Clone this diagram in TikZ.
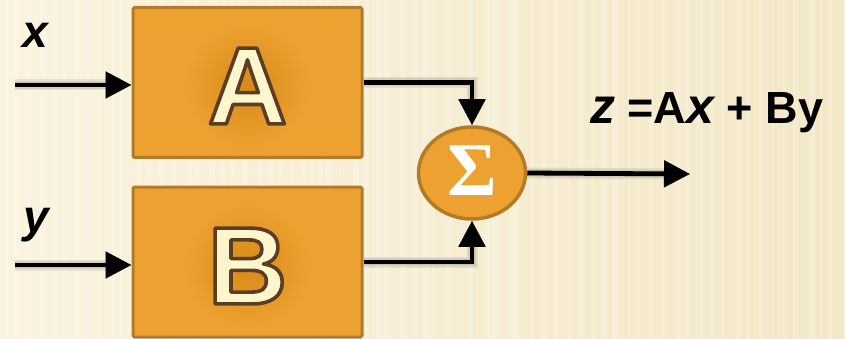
\documentclass[tikz,border=0pt]{standalone}
\usepackage{fontspec}
\setmainfont{Liberation Sans}
\newfontfamily\serifsym{Liberation Serif}
\usetikzlibrary{arrows.meta,shapes.geometric}

\definecolor{paper}{HTML}{FBF3DF}
\definecolor{paperdark}{HTML}{F3E7C6}
\definecolor{boxfill}{HTML}{EDA130}
\definecolor{boxedge}{HTML}{B47B27}
\definecolor{glow}{HTML}{D68A18}
\definecolor{lettercream}{HTML}{FFF6CE}

% cream glyphs stroked with a dark brown outline (text render mode 2)
\newcommand\outlinedletter[1]{%
  \textcolor{lettercream}{%
    \special{pdf:literal direct 2 Tr 3.6 w 1 j 0.357 0.239 0.133 RG}#1%
    \special{pdf:literal direct 0 Tr}}}

\tikzset{
  block/.style={draw=boxedge, line width=3pt, fill=boxfill, rounded corners=1.5pt,
                minimum width=229pt, minimum height=150pt, inner sep=0pt},
  summer/.style={ellipse, draw=boxedge, line width=3.5pt, fill=boxfill,
                 minimum width=107pt, minimum height=92pt, inner sep=0pt},
  wire/.style={line width=4.8pt, draw=black, -{Triangle[length=26pt,width=26pt]}},
  wireshadow/.style={line width=#1, draw=black!55!paperdark, opacity=0.13,
                     -{Triangle[length=26pt,width=26pt]}},
  biglabel/.style={font=\fontsize{110}{110}\selectfont\bfseries},
  varlabel/.style={font=\fontsize{46}{46}\selectfont\bfseries\itshape},
}

% connectors, drawn once for the soft shadows and once in black
\newcommand\drawwires[1]{%
  \draw[#1] (xin) -- (xin -| boxA.west);
  \draw[#1] (yin) -- (yin -| boxB.west);
  \draw[#1] (boxA.east) -| (sum.north);
  \draw[#1] (boxB.east) -| (sum.south);
  \draw[#1] (sum.east) -- (out);
}

\begin{document}
\begin{tikzpicture}[x=1pt,y=-1pt]
  % paper background with faint vertical grain
  \shade[left color=paper, right color=paperdark] (0,0) rectangle (845,339);
  \useasboundingbox (0,0) rectangle (845,339);
  \pgfmathsetseed{7}
  \foreach \i in {0,...,70}{
    \pgfmathsetmacro\xx{\i*12+rnd*6}
    \pgfmathsetmacro\ww{2+rnd*5}
    \fill[white, opacity=0.22] (\xx,0) rectangle ++(\ww,339);
  }

  % blocks
  \node[block] (boxA) at (247.5,82.5) {};
  \node[block] (boxB) at (247.5,262) {};
  \node[summer] (sum) at (472,173) {};

  % soft darker glow behind the block letters
  \shade[inner color=glow, outer color=boxfill] (247.5,86) ellipse (62 and 62);
  \shade[inner color=glow, outer color=boxfill] (247.5,266) ellipse (62 and 62);

  \node[biglabel] (letA) at (247.5,86) {\outlinedletter{A}};
  \node[biglabel] (letB) at (247.5,266) {\outlinedletter{B}};
  \node[text=white, font=\serifsym\bfseries\fontsize{76}{76}\selectfont] (sig) at (472,171) {Σ};

  % free ends of the connectors
  \coordinate (xin) at (15,85);
  \coordinate (yin) at (15,265);
  \coordinate (out) at (690,174);

  % shadows: a few widening strokes, shifted down and right
  \begin{scope}[shift={(3,10)}]
    \drawwires{wireshadow=11pt}
    \drawwires{wireshadow=8pt}
    \drawwires{wireshadow=5pt}
  \end{scope}
  \drawwires{wire}

  % signal labels
  \node[varlabel, anchor=base] (lx) at (35,48) {x};
  \node[varlabel, anchor=base] (ly) at (36,232) {y};
  \node[anchor=base west, inner sep=0pt, font=\fontsize{45}{45}\selectfont\bfseries] (res) at (590,124)
    {{\fontsize{50}{50}\selectfont\itshape z} =A{\fontsize{50}{50}\selectfont\itshape x} + By};
\end{tikzpicture}
\end{document}
